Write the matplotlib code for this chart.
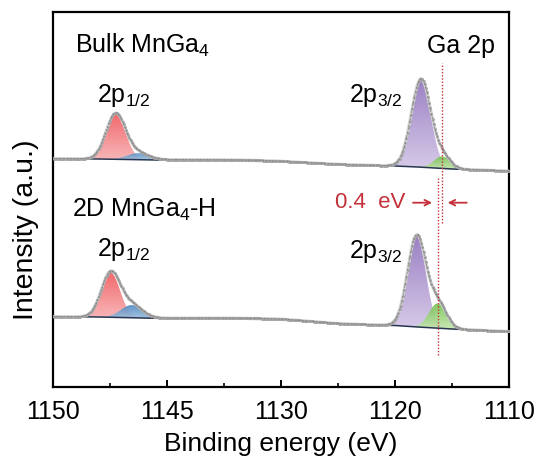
import numpy as np
import matplotlib
matplotlib.use("Agg")
import matplotlib.pyplot as plt
from matplotlib.colors import to_rgb

plt.rcParams['font.family'] = ['Liberation Sans', 'DejaVu Sans']
plt.rcParams['mathtext.fontset'] = 'custom'
plt.rcParams['mathtext.rm'] = 'Liberation Sans'
plt.rcParams['mathtext.it'] = 'Liberation Sans:italic'

# ---- fitted Ga 2p components: centre (eV), height (a.u.), FWHM (eV) ----
comp_names = ['2p1/2 main', '2p1/2 shoulder', 'loss', '2p3/2 main', '2p3/2 shoulder']
comp_colors_top = ['#f0585c', '#4f88c0', '#8fb0cc', '#9072bd', '#72c04c']
comp_colors_bot = ['#f7aeb0', '#9dc0df', '#c6d6e4', '#d2c4e6', '#c6e8b0']

bulk_centers = [1144.5, 1142.55, 1132.0, 1117.72, 1115.85]
bulk_heights = [45.5, 6.5, 2.0, 88.0, 12.0]
bulk_fwhm = [2.0, 2.2, 12.0, 2.0, 1.7]

h_centers = [1144.94, 1143.1, 1131.0, 1118.1, 1116.25]
h_heights = [44.5, 12.7, 2.0, 91.0, 24.7]
h_fwhm = [1.95, 2.2, 12.0, 1.9, 1.8]

# ---- background (Shirley-type) knots: binding energy, intensity ----
bg_energy = [1110, 1115, 1118, 1120, 1125, 1130, 1135, 1141, 1146, 1150]
bulk_bg = [216.0, 218.0, 220.0, 221.0, 222.0, 224.0, 225.5, 227.0, 228.0, 228.5]
h_bg = [55.5, 58.0, 60.0, 61.5, 62.5, 66.0, 67.5, 68.7, 70.0, 70.5]

# ---- axis ticks ----
tick_pos = [1150, 1140, 1130, 1120, 1110]
tick_labels = ['1150', '1145', '1130', '1120', '1110']

RED = '#c4313a'

energy = np.arange(1110.0, 1150.0001, 0.1)


def gauss(x, c, h, fwhm):
    s = fwhm / 2.3548
    return h * np.exp(-0.5 * ((x - c) / s) ** 2)


def gradient_fill(ax, x, base, top, c_top, c_bot, alpha, z):
    poly = ax.fill_between(x, base, top, facecolor='none', edgecolor='none')
    n = 128
    t = np.linspace(0, 1, n)[:, None]
    ct, cb = np.array(to_rgb(c_top)), np.array(to_rgb(c_bot))
    img = np.zeros((n, 1, 4))
    img[:, 0, :3] = cb * (1 - t) + ct * t
    img[:, 0, 3] = alpha
    im = ax.imshow(img, extent=[x.max(), x.min(), base.min(), top.max()],
                   origin='lower', aspect='auto', zorder=z,
                   interpolation='bilinear')
    im.set_clip_path(poly.get_paths()[0], transform=ax.transData)


def draw_spectrum(ax, centers, heights, fwhm, bg_vals):
    bg = np.interp(energy, bg_energy, bg_vals)
    total = bg.copy()
    order = [2, 0, 1, 3, 4]
    for i in order:
        g = gauss(energy, centers[i], heights[i], fwhm[i])
        total += g
        m = g > 0.02
        alpha = 0.6 if i == 2 else 0.9
        gradient_fill(ax, energy[m], bg[m], bg[m] + g[m],
                      comp_colors_top[i], comp_colors_bot[i], alpha, 2 + order.index(i))
    # background line under the two core-level regions
    for lo, hi in [(1139.5, 1148.0), (1112.5, 1121.5)]:
        m = (energy >= lo) & (energy <= hi)
        ax.plot(energy[m], bg[m], color='#283550', lw=1.1, zorder=8)
    # measured spectrum and envelope
    ax.plot(energy, total, color='#d2d2d2', lw=2.2, zorder=9)
    ax.plot(energy, total, ls='none', marker='o', ms=1.0, color='#a4a4a4', zorder=10)
    ax.plot(energy, total, color='#7a7a7a', lw=0.5, ls=(0, (3, 2)), zorder=11)


fig = plt.figure(figsize=(5.39, 4.65), dpi=100)
ax = fig.add_axes([53 / 539, 1 - 387 / 465, (509 - 53) / 539, (387 - 12) / 465])

draw_spectrum(ax, bulk_centers, bulk_heights, bulk_fwhm, bulk_bg)
draw_spectrum(ax, h_centers, h_heights, h_fwhm, h_bg)

# peak-position markers for the 2p3/2 shoulder
ax.vlines(bulk_centers[4], 164, 324, colors=RED, lw=1.0, linestyles=(0, (1, 1.3)), zorder=12)
ax.vlines(h_centers[4], 32, 209, colors=RED, lw=1.0, linestyles=(0, (1, 1.3)), zorder=12)
shift = h_centers[4] - bulk_centers[4]
ay = 184.3
arrow_kw = dict(arrowstyle='->', color=RED, lw=1.3, mutation_scale=10,
                shrinkA=0, shrinkB=0)
ax.annotate('', xy=(h_centers[4] + 0.5, ay), xytext=(h_centers[4] + 2.17, ay),
            arrowprops=arrow_kw, zorder=13)
ax.annotate('', xy=(bulk_centers[4] - 0.47, ay), xytext=(bulk_centers[4] - 2.14, ay),
            arrowprops=arrow_kw, zorder=13)
ax.text(1119.1, ay, f'{shift:.1f}  eV', color=RED, fontsize=16, ha='right', va='center')

# labels
ax.text(1148.07, 334, r'Bulk MnGa$\mathregular{_4}$', fontsize=18, ha='left', va='baseline')
ax.text(1148.36, 170.3, r'2D MnGa$\mathregular{_4}$-H', fontsize=18, ha='left', va='baseline')
ax.text(1117.22, 333.7, 'Ga 2p', fontsize=18, ha='left', va='baseline')
ax.text(1146.17, 285, r'2p$\mathregular{_{1/2}}$', fontsize=18, ha='left', va='baseline')
ax.text(1146.17, 131, r'2p$\mathregular{_{1/2}}$', fontsize=18, ha='left', va='baseline')
ax.text(1124.0, 285.3, r'2p$\mathregular{_{3/2}}$', fontsize=18, ha='left', va='baseline')
ax.text(1124.0, 128.7, r'2p$\mathregular{_{3/2}}$', fontsize=18, ha='left', va='baseline')

ax.set_xlim(1150, 1110)
ax.set_ylim(0, 375)
ax.set_xticks(tick_pos)
ax.set_xticklabels(tick_labels)
ax.set_xticks([1145, 1135, 1125, 1115], minor=True)
ax.set_yticks([])
ax.tick_params(axis='x', which='major', direction='in', length=5, width=1.4,
               labelsize=18, pad=9)
ax.tick_params(axis='x', which='minor', direction='in', length=3, width=1.2)
for sp in ax.spines.values():
    sp.set_linewidth(1.6)
ax.set_xlabel('Binding energy (eV)', fontsize=19, labelpad=6)
ax.set_ylabel('Intensity (a.u.)', fontsize=20.5)
ax.yaxis.set_label_coords(-0.03, 0.42)

fig.savefig('out.png', dpi=100)
